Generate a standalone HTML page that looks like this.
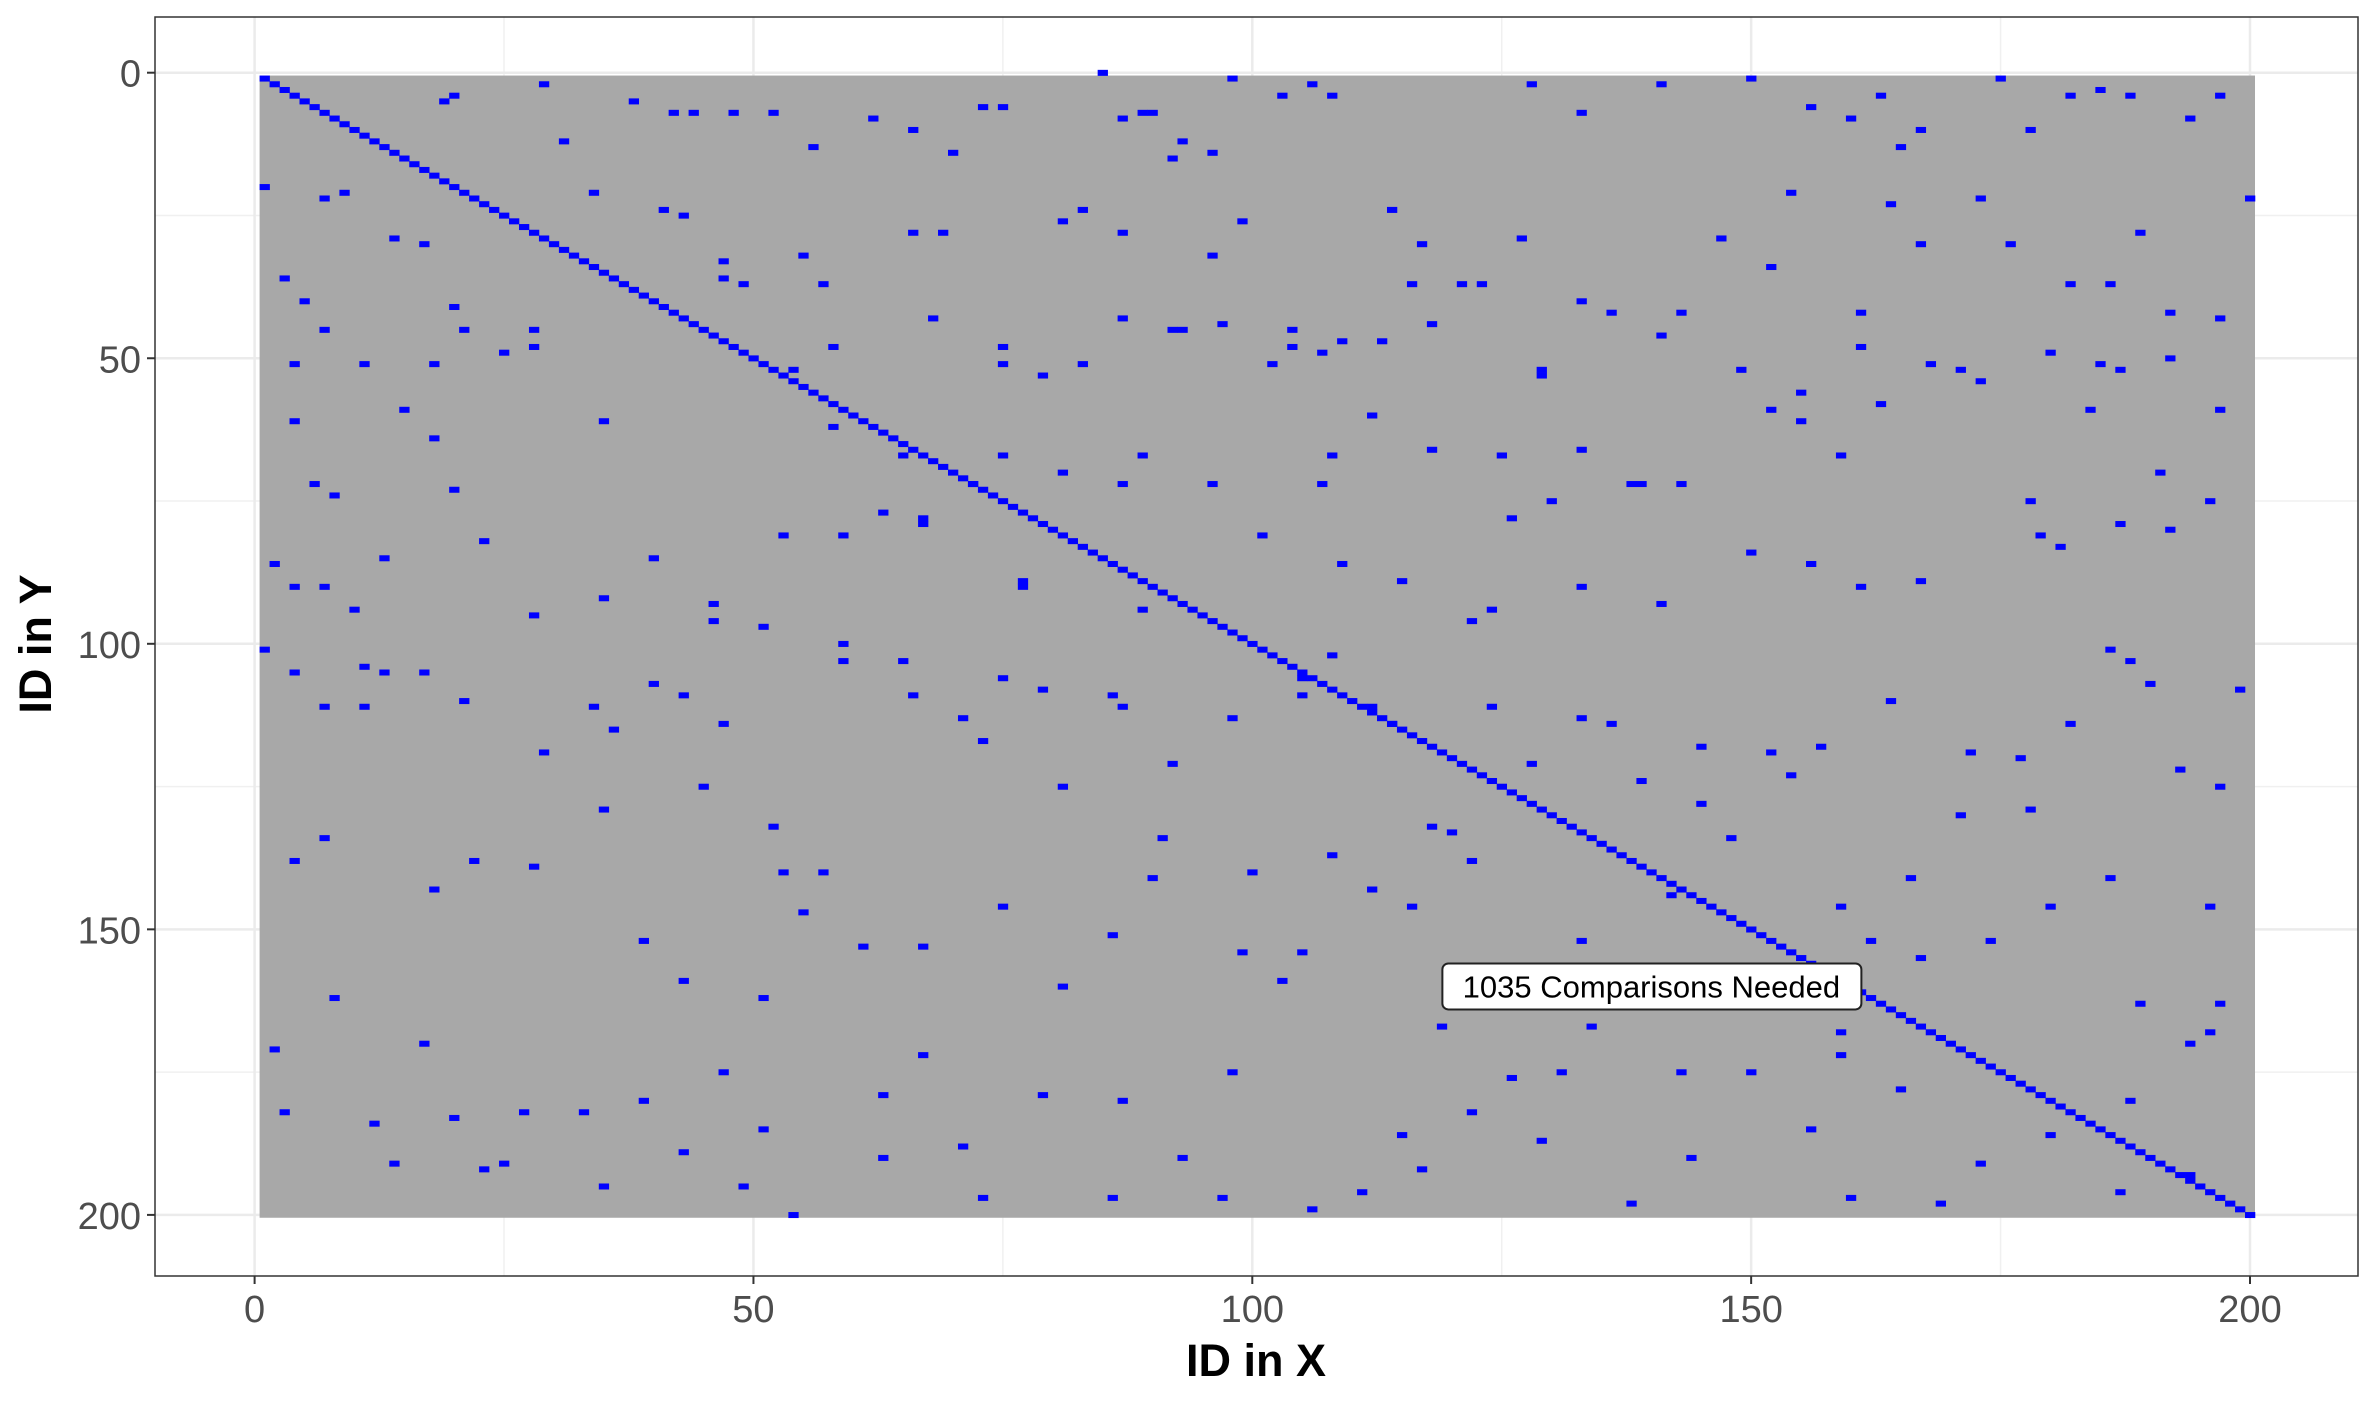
<!DOCTYPE html>
<html><head><meta charset="utf-8"><style>
html,body{margin:0;padding:0;background:#fff;}
svg{display:block;font-family:"Liberation Sans",sans-serif;}
</style></head><body>
<svg id="chart" width="2376" height="1404" viewBox="0 0 2376 1404" xmlns="http://www.w3.org/2000/svg"></svg>
<script>
const xTicks=[0,50,100,150,200];
const yTicks=[0,50,100,150,200];
const xMinor=[25,75,125,175];
const yMinor=[25,75,125,175];
const nIds=200;
const annotationText="1035 Comparisons Needed";
const annotationX=140, annotationY=160;
const pointsX=[20,19,29,38,42,44,48,52,56,62,66,70,73,75,85,87,89,90,92,93,96,98,103,106,108,128,133,141,150,156,160,163,165,167,175,178,182,185,188,194,197,200,
1,3,7,9,14,17,20,21,28,31,34,41,43,47,49,55,57,66,69,81,83,87,92,96,99,102,104,109,114,117,121,123,127,129,133,141,147,152,154,161,164,167,173,176,182,186,189,192,197,
4,15,18,20,35,40,46,51,59,63,67,75,77,89,101,108,112,118,125,130,133,138,139,143,152,155,159,161,163,173,178,184,191,197,199,
1,7,11,21,28,34,40,45,52,57,59,66,73,81,86,91,100,105,112,116,120,128,136,145,154,159,166,171,178,186,190,196,
2,8,12,17,23,27,33,39,43,47,51,54,63,67,71,79,87,93,98,103,111,115,117,126,131,138,144,150,159,165,173,180,188,194,197,
5,7,11,18,25,28,47,54,58,68,75,75,79,83,87,93,97,104,107,113,116,118,129,136,143,149,155,168,171,180,185,187,192,
6,8,4,13,2,4,7,10,23,35,46,53,58,65,67,72,77,81,87,89,96,107,109,115,122,124,126,133,141,150,156,161,167,179,181,187,192,196,
4,11,13,17,29,36,43,47,53,59,65,71,75,79,87,92,98,105,108,114,118,124,133,139,145,152,157,164,172,177,182,188,193,197,
4,7,18,22,28,35,39,43,51,55,61,67,75,81,86,90,99,105,108,112,119,122,133,134,142,148,154,159,162,167,174,180,186,189,196,
3,14,20,25,35,49,63,73,86,97,106,122,129,143,156,160,169,187,194];
const pointsY=[4,5,2,5,7,7,7,7,13,8,10,14,6,6,0,8,7,7,15,12,14,1,4,2,4,2,7,2,1,6,8,4,13,10,1,10,4,3,4,8,4,22,
20,36,22,21,29,30,41,45,45,12,21,24,25,36,37,32,37,28,28,26,24,28,45,32,26,51,45,47,24,30,37,37,29,53,40,46,29,34,21,42,23,30,22,30,37,37,28,42,43,
51,59,64,73,61,85,96,97,81,77,79,67,89,94,81,67,60,66,67,75,66,72,72,72,59,61,67,48,58,54,75,59,70,59,108,
101,111,104,110,95,111,107,125,132,140,103,109,117,125,109,134,140,106,111,146,133,121,114,128,123,146,141,130,129,101,107,146,
171,162,184,170,192,182,182,180,189,175,185,200,179,172,188,179,180,190,175,159,196,186,192,176,175,198,190,175,172,178,191,186,180,170,163,
40,45,51,51,49,48,33,52,48,43,48,51,53,51,43,45,44,48,49,47,37,44,52,42,42,52,56,51,52,49,51,52,50,
72,74,61,85,86,90,90,94,82,92,93,81,62,67,78,72,90,70,72,67,72,72,86,89,96,94,78,90,93,84,86,90,89,81,83,79,80,75,
105,111,105,105,119,115,109,114,140,100,103,113,106,108,111,121,113,109,102,114,132,111,113,124,118,119,118,110,119,120,114,103,122,125,
138,134,143,138,139,129,152,159,162,147,153,153,146,160,151,141,154,154,137,143,167,138,152,167,144,134,162,168,152,155,152,146,141,163,168,
182,191,183,191,195,195,190,197,197,197,199,182,187,175,185,197,198,196,193];

const NS="http://www.w3.org/2000/svg";
const svg=document.getElementById('chart');
const X0=254.6, XS=9.977, Y0=72.7, YS=5.711;
const sx=v=>X0+v*XS, sy=v=>Y0+v*YS;
function mk(tag,attrs,parent){const e=document.createElementNS(NS,tag);for(const k in attrs)e.setAttribute(k,attrs[k]);(parent||svg).appendChild(e);return e;}
const PL=155,PR=2358,PT=17,PB=1276;
const panel=mk('rect',{x:PL,y:PT,width:PR-PL,height:PB-PT,fill:'#fff'});


xMinor.forEach(v=>{const l=mk('line',{x1:sx(v),x2:sx(v),y1:PT,y2:PB,stroke:'#f0f0f0','stroke-width':1.5});

});
yMinor.forEach(v=>{const l=mk('line',{x1:PL,x2:PR,y1:sy(v),y2:sy(v),stroke:'#f0f0f0','stroke-width':1.5});

});
xTicks.forEach(v=>{const l=mk('line',{x1:sx(v),x2:sx(v),y1:PT,y2:PB,stroke:'#ebebeb','stroke-width':2.5});

});
yTicks.forEach(v=>{const l=mk('line',{x1:PL,x2:PR,y1:sy(v),y2:sy(v),stroke:'#ebebeb','stroke-width':2.5});

});
const bg=mk('rect',{x:sx(0.5),y:sy(0.5),width:nIds*XS,height:nIds*YS,fill:'#a8a8a8'});


for(let i=1;i<=nIds;i++){const r=mk('rect',{x:sx(i-0.5),y:sy(i-0.5),width:XS+0.3,height:YS+0.3,fill:'#0000ff'});

}
for(let i=0;i<pointsX.length;i++){const r=mk('rect',{x:sx(pointsX[i]-0.5),y:sy(pointsY[i]-0.5),width:XS+0.3,height:YS+0.3,fill:'#0000ff'});

}
const border=mk('rect',{x:PL,y:PT,width:PR-PL,height:PB-PT,fill:'none',stroke:'#333','stroke-width':1.5});


xTicks.forEach(v=>{const t=mk('line',{x1:sx(v),x2:sx(v),y1:PB,y2:PB+8,stroke:'#333','stroke-width':2});


const l=mk('text',{x:sx(v),y:PB+46,'text-anchor':'middle','font-size':38,fill:'#4d4d4d'});l.textContent=v;

});
yTicks.forEach(v=>{const t=mk('line',{x1:PL-8,x2:PL,y1:sy(v),y2:sy(v),stroke:'#333','stroke-width':2});


const l=mk('text',{x:PL-14,y:sy(v)+14,'text-anchor':'end','font-size':38,fill:'#4d4d4d'});l.textContent=v;

});
const xt=mk('text',{x:1256,y:1376,'text-anchor':'middle','font-size':45,'font-weight':'bold',fill:'#000'});xt.textContent='ID in X';


const yt=mk('text',{x:0,y:0,'text-anchor':'middle','font-size':45,'font-weight':'bold',fill:'#000',transform:'translate(51,644) rotate(-90)'});yt.textContent='ID in Y';


const cx=sx(annotationX), cy=sy(annotationY);
const lb=mk('rect',{x:cx-209,y:cy-23,width:419,height:46,rx:6,fill:'#fff',stroke:'#222','stroke-width':2});


const lt=mk('text',{x:cx,y:cy+11,'text-anchor':'middle','font-size':31,fill:'#000'});lt.textContent=annotationText;


</script>
</body></html>
